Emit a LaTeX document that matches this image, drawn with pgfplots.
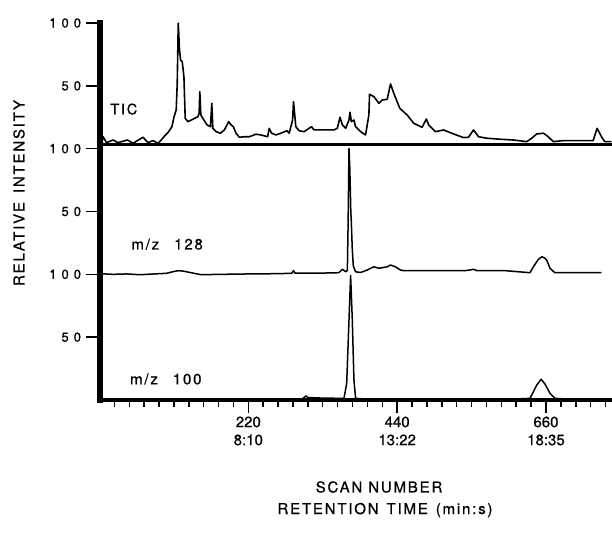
\documentclass[border=0pt]{standalone}
\usepackage{fontspec}
\setmainfont{TeX Gyre Heros}[FakeBold=0.7]
\newfontfamily\wideface[LetterSpace=12, FakeBold=0.7]{TeX Gyre Heros}
\usepackage{pgfplots}
\usepackage{pgfplotstable}
\pgfplotsset{compat=1.18}

% Total ion current (scan number, relative intensity)
\pgfplotstableread{
scan int
0 3
2.9 3.5
5.4 9.5
10.3 4.8
20.1 6.9
27.5 4.8
41.2 6.9
49.6 4.3
64.3 9.1
71.7 4.8
79.1 6.4
86.4 4.3
91.3 6.9
96.2 10.1
101.1 12.7
107.1 17.5
110 25
113.4 30.8
114.9 52
116.4 99.8
118.3 78.5
119.8 70.6
122.3 69.2
124.8 57.3
126.7 24.2
130.7 21.5
138 23.4
145.4 25.5
147.3 28.2
148.3 45.3
149.8 26.8
154.2 22.8
159.1 18.9
164 17.5
166 36.1
167.5 16.2
172.4 13.5
178.7 12.3
184.6 14.9
191 21.5
194.5 18.9
197.8 17.5
201.8 12.3
206.7 9.1
214.1 9.5
221.5 9.5
231.3 11.5
238.7 10.9
248.5 9.5
250.9 16.2
254.4 12.3
260.8 10.9
268.1 12.3
277 14.3
280.4 12.3
285.4 22.8
286.8 37.4
290.2 17.5
295.1 14.3
302.5 13.5
313.3 17.5
317.2 14.9
327 14.9
346.7 14.9
351.6 16.2
355.5 25
359 18.9
363.9 16.2
368.8 22.8
370.3 29
372.3 21.5
376.1 22.8
378.6 17.5
386 13.5
393.3 10.9
398.2 26.8
399.2 43.3
405.6 41.4
413 36.1
417.9 38.7
425.3 39.3
430.2 51.5
435 44.1
443.9 32.1
454.8 26.8
464.5 20.2
476.9 17
483.2 23.6
486.6 18.9
496.5 13.5
508.7 14.9
523.4 11.7
538.2 8.8
545.5 9.1
552.9 14.9
560.3 9.5
572.6 8.3
592.2 7.5
611.8 6.9
631.6 5.6
638.9 8.3
646.3 11.7
656.1 12.3
663.4 9.5
670.8 5.6
685.5 6.4
729.7 6.4
735.6 16.2
742 9.5
746.9 5.6
756.8 5.6
}\tic

% Selected ion m/z 128
\pgfplotstableread{
scan int
0 0.5
20 0
40 0.3
60 -0.3
80 0.3
98.7 0.8
108 2
115.9 2.9
123.3 2.6
135.5 1.3
150.3 -0.3
180 0
220 0.3
260 0.5
284 0.8
286.8 2.9
289 1
330 1
354 1.3
359 4
363.9 2.1
366.4 3
367.5 40
368.8 100
370 85
371.5 50
372.3 40.6
373.7 19.3
375.2 6.6
378.6 2
386 1.5
395.8 3.4
400.7 4.8
405.6 6
413 4.8
425.3 6
430.2 7.4
437.5 6
444.9 3.4
449.8 2.9
500 2.9
540 2.9
548 3.5
553 4
558 2.9
600 2.9
636.4 1.3
641.3 6
648.7 11.9
654 14
658 13
661 11.4
665.9 4.8
673.2 1.3
742 1.3
}\mzA

% Selected ion m/z 100
\pgfplotstableread{
scan int
0 0
100 0.5
200 0.3
290 0.5
300 1
305 3.2
308 2
330 1.5
361.4 1.3
365.4 13.3
368.8 63.6
371.2 99
373.7 63.6
376.1 15.9
378.6 1.3
400 0.5
500 0.5
600 0.5
636.4 1.3
646.3 11.9
652.9 16.5
658.5 12.7
665.9 5.3
673.2 1.3
700 0.5
757 0.5
}\mzB

\newcommand{\fifty}{5\hspace{5pt}0}
\newcommand{\hundred}{1\hspace{5pt}0\hspace{5pt}0}

\begin{document}
\begin{tikzpicture}[x=1pt,y=1pt]
\useasboundingbox (0,0) rectangle (612,538);
\begin{axis}[
  at={(99.5pt,138pt)}, anchor=south west,
  scale only axis, width=512.1pt, height=377pt,
  xmin=0, xmax=757, ymin=0, ymax=300,
  axis lines=left,
  axis line style={-},
  x axis line style={line width=4pt, line cap=rect},
  y axis line style={line width=6pt, line cap=rect},
  tick align=outside,
  xtick={220,440,660},
  xticklabels={{220\\8:10},{440\\13:22},{660\\18:35}},
  minor xtick={22,44,...,748},
  ytick={50,100,...,300},
  yticklabels={\fifty,\hundred,\fifty,\hundred,\fifty,\hundred},
  major tick length=13pt, minor tick length=6.5pt,
  tick style={black, line width=1.5pt},
  x tick label style={font=\fontsize{15}{18}\selectfont, align=center},
  y tick label style={font=\fontsize{13}{15}\selectfont, xshift=-2pt},
  clip=false,
]
% baseline of the TIC trace
\addplot[black, line width=2.6pt] coordinates {(0,203.4) (757,203.4)};
\addplot[black, line width=1.6pt, line join=round] table[x index=0, y expr=\thisrowno{1}+200] {\tic};
\addplot[black, line width=1.5pt, line join=round] table[x index=0, y expr=\thisrowno{1}+100] {\mzA};
\addplot[black, line width=1.5pt, line join=round] table[x index=0, y index=1] {\mzB};

\node[font=\wideface\fontsize{14.5}{16}\selectfont] at (axis cs:36,231.5) {TIC};
\node[font=\wideface\fontsize{15}{16}\selectfont] at (axis cs:100,124) {m/z\hspace{15pt}128};
\node[font=\wideface\fontsize{15}{16}\selectfont] at (axis cs:98,16.7) {m/z\hspace{15pt}100};
\end{axis}
\node[rotate=90, font=\wideface\fontsize{15}{16}\selectfont] at (19,345) {RELATIVE\hspace{9pt}INTENSITY};
\node[font=\wideface\fontsize{15}{18}\selectfont] at (379,51) {SCAN NUMBER};
\node[font=\wideface\fontsize{15}{18}\selectfont] at (385,28) {RETENTION\hspace{8pt}TIME\hspace{8pt}(min:s)};
\end{tikzpicture}
\end{document}
